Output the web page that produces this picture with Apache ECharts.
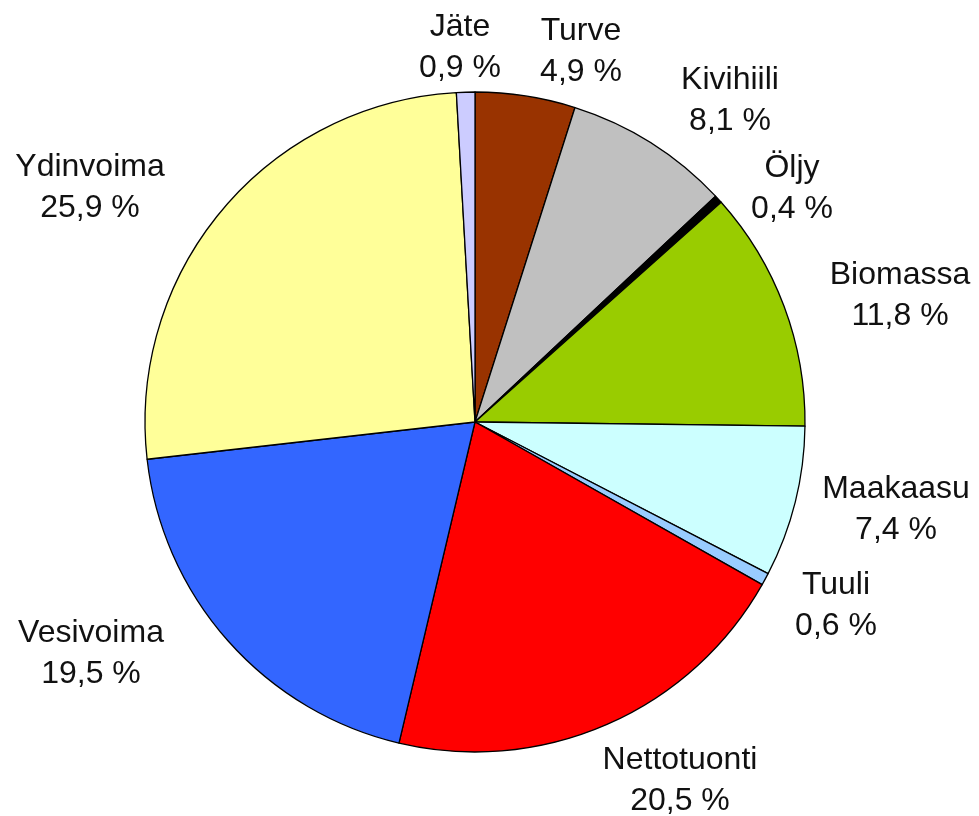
<!DOCTYPE html>
<html>
<head>
<meta charset="utf-8">
<script src="https://cdn.jsdelivr.net/npm/echarts@6/dist/echarts.min.js"></script>
<style>
  html, body { margin: 0; padding: 0; background: #fff; }
  #main { width: 979px; height: 816px; }
</style>
</head>
<body>
<div id="main"></div>
<script>
  // lähteet myötäpäivään klo 12:sta alkaen
  var names = ['Turve', 'Kivihiili', 'Öljy', 'Biomassa', 'Maakaasu', 'Tuuli', 'Nettotuonti', 'Vesivoima', 'Ydinvoima', 'Jäte'];
  var shares = [4.9, 8.1, 0.4, 11.8, 7.4, 0.6, 20.5, 19.5, 25.9, 0.9];
  var colors = ['#993300', '#c0c0c0', '#000000', '#99cc00', '#ccffff', '#99ccff', '#ff0000', '#3366ff', '#ffff99', '#ccccff'];

  // tekstien keskipisteet kuvassa
  var labelPos = [[581, 52], [730, 101], [792, 189], [900, 296], [896, 510], [836, 606], [680, 781], [91, 654], [90, 188], [460, 48]];

  var chart = echarts.init(document.getElementById('main'));

  var pieData = names.map(function (n, i) {
    return { name: n, value: shares[i], itemStyle: { color: colors[i] } };
  });

  chart.setOption({
    backgroundColor: '#ffffff',
    animation: false,
    series: [{
      type: 'pie',
      center: [475, 422],
      radius: 330,
      startAngle: 90,
      clockwise: true,
      data: pieData,
      itemStyle: {
        borderColor: '#000',
        borderWidth: 1.3
      },
      label: {
        show: true,
        position: 'outside',
        color: '#111',
        fontFamily: 'Liberation Sans, Arial, sans-serif',
        fontSize: 32,
        lineHeight: 41,
        align: 'center',
        overflow: 'none',
        width: 300,
        formatter: function (p) {
          return p.name + '\n' + p.value.toFixed(1).replace('.', ',') + ' %';
        }
      },
      labelLine: { show: false },
      labelLayout: function (p) {
        var pos = labelPos[p.dataIndex];
        return { x: pos[0], y: pos[1], align: 'center', verticalAlign: 'middle' };
      },
      emphasis: { disabled: true }
    }]
  });
</script>
</body>
</html>
